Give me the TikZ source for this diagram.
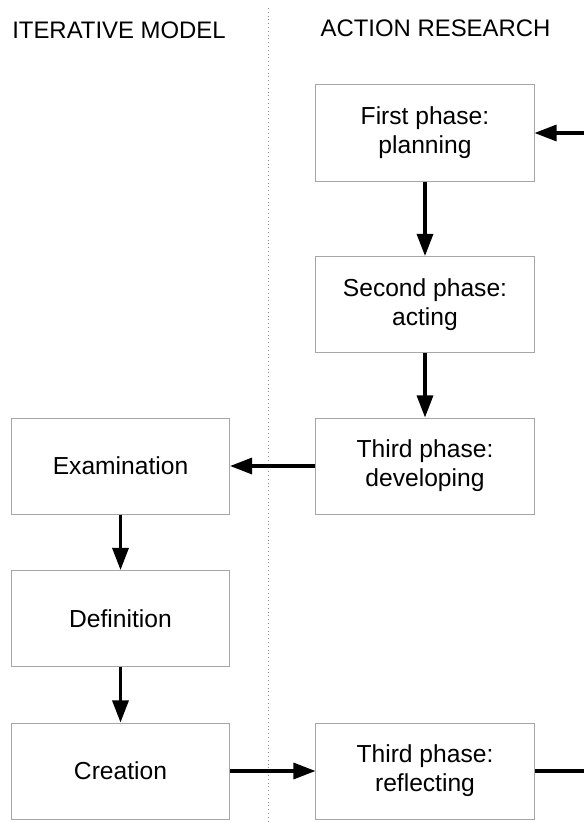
\documentclass[tikz,border=0pt]{standalone}
\usepackage{fontspec}
\setmainfont{Liberation Sans}
\usepackage{tikz}
\usetikzlibrary{arrows.meta, positioning, calc}

\tikzset{
  phase/.style={draw=gray!70, line width=0.7pt, rectangle, minimum width=5.45cm, minimum height=2.4cm, align=center, font=\fontsize{17.5}{20.5}\selectfont},
  heading/.style={font=\fontsize{17}{19.5}\selectfont},
  link/.style={-{Triangle[length=0.55cm, width=0.4cm]}, line width=2.2pt},
}

\begin{document}
\begin{tikzpicture}[x=0.025cm, y=-0.025cm]
\useasboundingbox (0,0) rectangle (584,822);

% Column headings and divider
\node[heading] (iterhead) at (119, 30) {ITERATIVE MODEL};
\node[heading] (acthead) at (435.5, 28) {ACTION RESEARCH};
\draw[gray!90, dotted, line width=0.7pt] (268, 8) -- (268, 822);

% Action research cycle
\node[phase] (planning) at (425, 133) {First phase:\\planning};
\node[phase] (acting) at (425, 304.5) {Second phase:\\acting};
\node[phase] (developing) at (425, 466) {Third phase:\\developing};
\node[phase] (reflecting) at (425, 771) {Third phase:\\reflecting};

% Iterative model
\node[phase] (examination) at (120.5, 466) {Examination};
\node[phase] (definition) at (120.5, 618.5) {Definition};
\node[phase] (creation) at (120.5, 771) {Creation};

% Loop ends at the page edge
\coordinate (loopin) at (584, 133);
\coordinate (loopout) at (584, 771);

\draw[link] (planning) -- (acting);
\draw[link] (acting) -- (developing);
\draw[link] (developing) -- (examination);
\draw[link] (examination) -- (definition);
\draw[link] (definition) -- (creation);
\draw[link] (creation) -- (reflecting);
\draw[line width=2.2pt] (reflecting) -- (loopout);
\draw[link] (loopin) -- (planning);
\end{tikzpicture}
\end{document}
